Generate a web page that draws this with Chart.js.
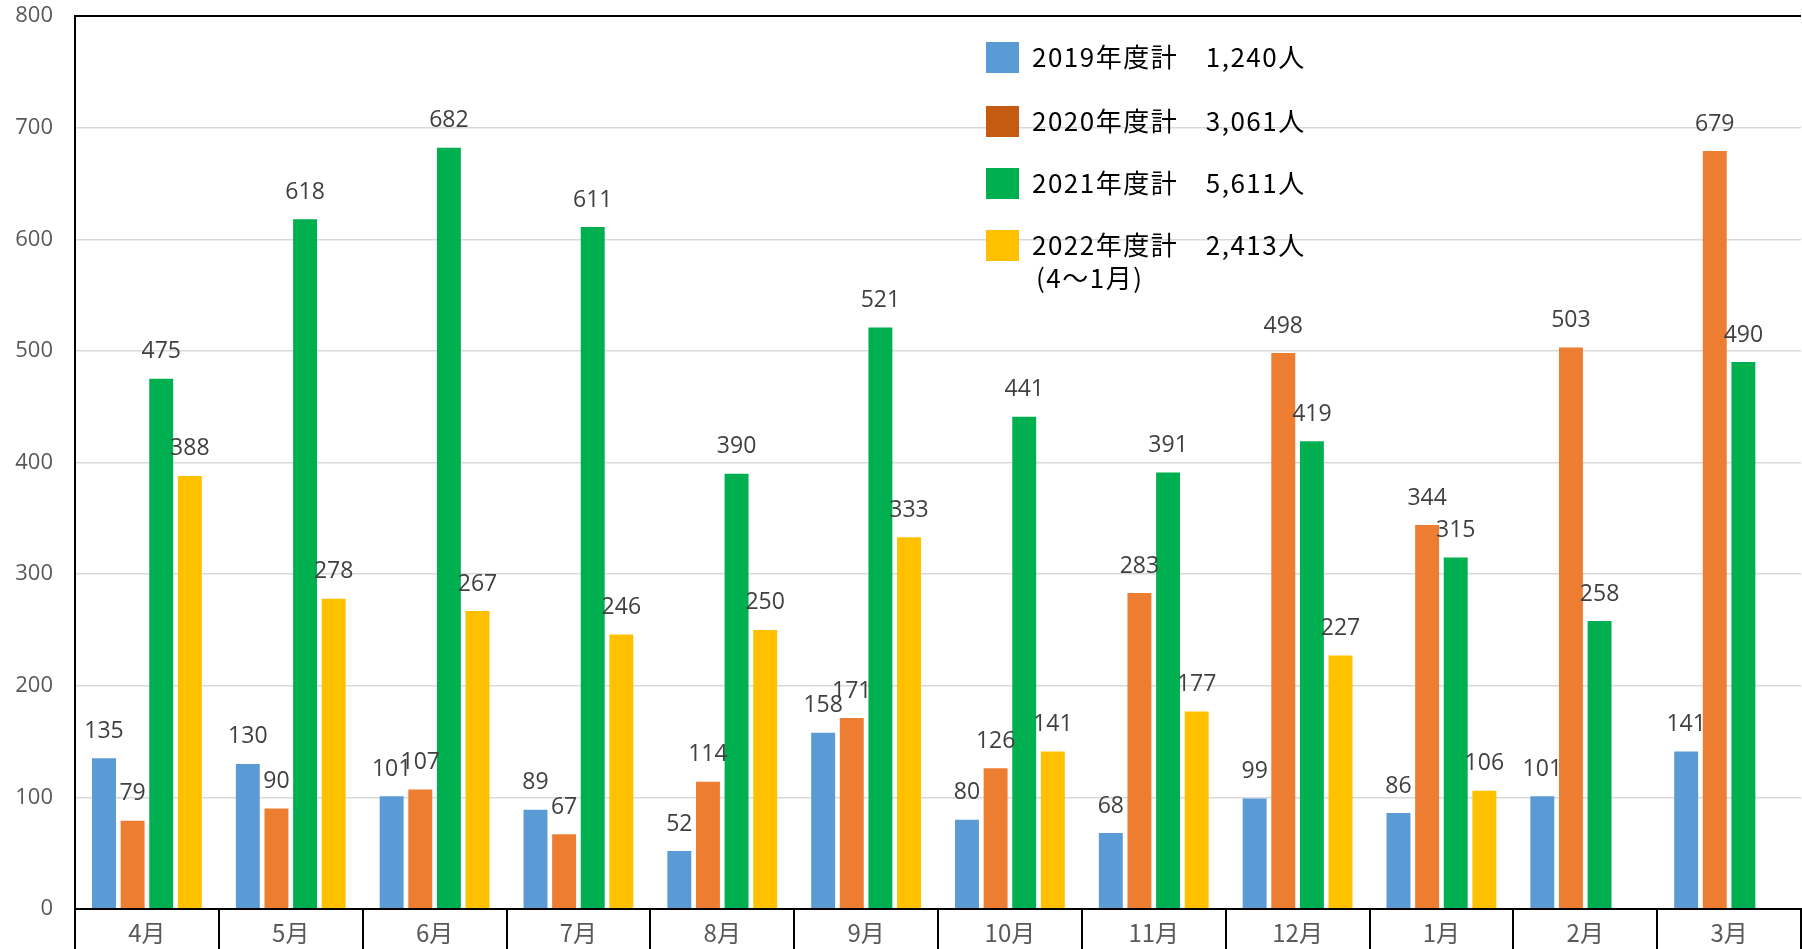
<!DOCTYPE html>
<html lang="ja">
<head>
<meta charset="utf-8">
<script src="https://cdn.jsdelivr.net/npm/chart.js@4"></script>
<style>
  html, body { margin: 0; padding: 0; background: #fff; }
  canvas { display: block; }
</style>
</head>
<body>
<canvas id="chart" width="1802" height="949"></canvas>
<script>
const months = ["4月", "5月", "6月", "7月", "8月", "9月", "10月", "11月", "12月", "1月", "2月", "3月"]
const fy2019 = [135, 130, 101, 89, 52, 158, 80, 68, 99, 86, 101, 141]
const fy2020 = [79, 90, 107, 67, 114, 171, 126, 283, 498, 344, 503, 679]
const fy2021 = [475, 618, 682, 611, 390, 521, 441, 391, 419, 315, 258, 490]
const fy2022 = [388, 278, 267, 246, 250, 333, 141, 177, 227, 106, null, null]
const legendTexts = ["2019年度計　1,240人", "2020年度計　3,061人", "2021年度計　5,611人", "2022年度計　2,413人"]
const legendNote = "(4～1月)"

const barColors = ["#5B9BD5", "#ED7D31", "#00B050", "#FFC000"]
const legendColors = ["#5B9BD5", "#C55A11", "#00B050", "#FFC000"]

// value labels above each bar
const valueLabels = {
  id: "valueLabels",
  afterDatasetsDraw(chart) {
    const ctx = chart.ctx
    ctx.save()
    ctx.font = "23px 'Open Sans'"
    ctx.fillStyle = "#404040"
    ctx.textAlign = "center"
    ctx.textBaseline = "middle"
    chart.data.datasets.forEach((ds, i) => {
      chart.getDatasetMeta(i).data.forEach((bar, j) => {
        if (ds.data[j] == null) return
        ctx.fillText(ds.data[j], bar.x, bar.y - 27)
      })
    })
    ctx.restore()
  }
}

// legend box drawn inside the plot
const boxLegend = {
  id: "boxLegend",
  afterDraw(chart) {
    const ctx = chart.ctx
    const rows = [57, 121, 183, 245]
    ctx.save()
    ctx.font = "26px 'Noto Sans CJK JP'"
    ctx.letterSpacing = "1.5px"
    ctx.fillStyle = "#000"
    ctx.textBaseline = "middle"
    legendTexts.forEach((t, i) => {
      ctx.fillStyle = legendColors[i]
      ctx.fillRect(986, rows[i] - 15, 33, 31)
      ctx.fillStyle = "#000"
      ctx.fillText(t, 1032, rows[i])
    })
    ctx.fillText(legendNote, 1036, 278)
    ctx.restore()
  }
}

new Chart(document.getElementById("chart"), {
  type: "bar",
  data: {
    labels: months,
    datasets: [fy2019, fy2020, fy2021, fy2022].map((d, i) => ({
      label: legendTexts[i],
      data: d,
      backgroundColor: barColors[i],
      categoryPercentage: 0.796,
      barPercentage: 0.836
    }))
  },
  options: {
    responsive: false,
    animation: false,
    layout: { padding: { top: 16, right: 1 } },
    plugins: {
      legend: { display: false },
      tooltip: { enabled: false }
    },
    scales: {
      x: {
        afterFit: s => { s.height = 40 },
        grid: {
          drawOnChartArea: false,
          offset: true,
          color: "#000",
          lineWidth: 2,
          tickLength: 45
        },
        border: { color: "#000", width: 2 },
        ticks: {
          padding: -36,
          color: "#595959",
          font: { family: "'Noto Sans CJK JP'", size: 24 }
        }
      },
      y: {
        min: 0,
        max: 800,
        afterFit: s => { s.width = 75; s.paddingTop = 0; s.paddingBottom = 0 },
        ticks: {
          stepSize: 100,
          padding: 22,
          color: "#595959",
          font: { family: "'Open Sans'", size: 22 }
        },
        grid: {
          drawTicks: false,
          color: c => (c.tick.value === 800 || c.tick.value === 0) ? "#000" : "#D9D9D9",
          lineWidth: c => (c.tick.value === 800 || c.tick.value === 0) ? 2 : 1.5
        },
        border: { color: "#000", width: 2 }
      }
    }
  },
  plugins: [valueLabels, boxLegend]
})
</script>
</body>
</html>
